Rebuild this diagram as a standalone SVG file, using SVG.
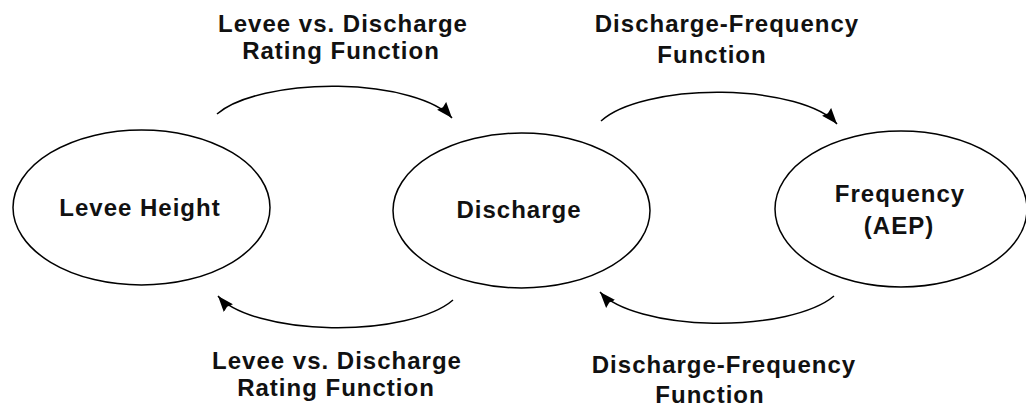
<svg xmlns="http://www.w3.org/2000/svg" width="1026" height="409" viewBox="0 0 1026 409">
<style>
.node ellipse{fill:#fff;stroke:#000;stroke-width:1.5}
text{font-family:"Liberation Sans",Arial,sans-serif;font-weight:bold;font-size:24px;letter-spacing:1px;fill:#111;text-anchor:middle}
.conn path{fill:none;stroke:#000;stroke-width:1.5;marker-end:url(#ah)}
</style>
<defs>
<marker id="ah" markerUnits="userSpaceOnUse" markerWidth="18" markerHeight="14" refX="16" refY="7" orient="auto">
<path d="M0,1 L16,7 L0,13 L2,7 Z" fill="#000"/>
</marker>
</defs>
<rect width="1026" height="409" fill="#fff"/>
<g id="levee-height" class="node">
<ellipse cx="141.5" cy="207.5" rx="128.5" ry="77.5"/>
<text x="140" y="216">Levee Height</text>
</g>
<g id="discharge" class="node">
<ellipse cx="521.5" cy="210.5" rx="128.5" ry="77.5"/>
<text x="519" y="218">Discharge</text>
</g>
<g id="frequency" class="node">
<ellipse cx="901" cy="209" rx="126" ry="78"/>
<text x="900" y="202">Frequency</text>
<text x="899" y="234">(AEP)</text>
</g>
<g id="connectors" class="conn">
<path d="M217,114 A125 45 0 0 1 452,118"/>
<path d="M601,121 A125 45 0 0 1 837,124"/>
<path d="M453,300 A125 45 0 0 1 218,296"/>
<path d="M834,296 A125 45 0 0 1 600,292"/>
</g>
<g id="labels">
<text x="343" y="32">Levee vs. Discharge</text>
<text x="341" y="59">Rating Function</text>
<text x="727" y="32">Discharge-Frequency</text>
<text x="712" y="63">Function</text>
<text x="337" y="369">Levee vs. Discharge</text>
<text x="336" y="396">Rating Function</text>
<text x="724" y="373">Discharge-Frequency</text>
<text x="710" y="403">Function</text>
</g>
</svg>
